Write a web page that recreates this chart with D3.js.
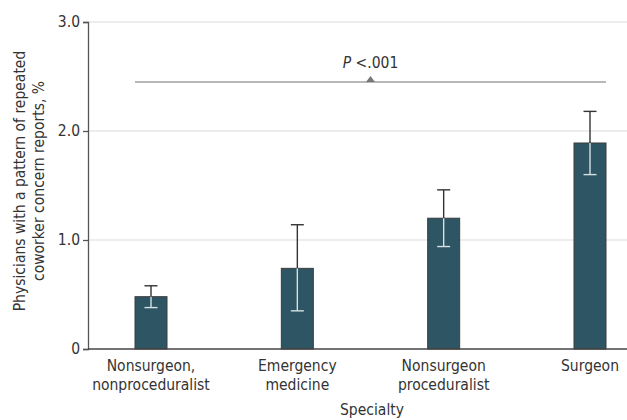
<!DOCTYPE html>
<html>
<head>
<meta charset="utf-8">
<script src="https://cdn.jsdelivr.net/npm/d3@7"></script>
<style>
body { margin: 0; background: #fff; }
svg text { font-family: "Liberation Sans Narrow", "DejaVu Sans Condensed", "Roboto Condensed", "Liberation Sans", sans-serif; fill: #333; }
</style>
</head>
<body>
<svg id="chart"></svg>
<script>
var categories = [["Nonsurgeon,", "nonproceduralist"], ["Emergency", "medicine"], ["Nonsurgeon", "proceduralist"], ["Surgeon"]];
var values = [0.48, 0.74, 1.20, 1.89];
var lower = [0.38, 0.35, 0.94, 1.60];
var upper = [0.58, 1.14, 1.46, 2.18];
var yTicks = [0, 1, 2, 3];
var yTickLabels = ["0", "1.0", "2.0", "3.0"];
var pLineLevel = 2.45;
var pText = "<.001";

var width = 627, height = 420;
var svg = d3.select('#chart')
	.attr('width', width)
	.attr('height', height);

var x = d3.scalePoint()
	.domain(d3.range(categories.length))
	.range([151, 590]);

var y = d3.scaleLinear()
	.domain([0, 3])
	.range([349, 22]);

var barW = 32;

// gridlines
svg.selectAll('.grid')
	.data(yTicks.filter(function(d){ return d > 0; }))
	.enter().append('line')
	.attr('x1', 88).attr('x2', width)
	.attr('y1', function(d){ return y(d); })
	.attr('y2', function(d){ return y(d); })
	.attr('stroke', '#dcdcdc')
	.attr('stroke-width', 1.2);

// y axis
var yAxis = d3.axisLeft(y)
	.tickValues(yTicks)
	.tickFormat(function(d, i){ return yTickLabels[i]; })
	.tickSize(5)
	.tickPadding(3);

var gy = svg.append('g')
	.attr('transform', 'translate(88,0)')
	.call(yAxis);
gy.select('.domain').attr('stroke', '#555').attr('stroke-width', 1.3);
gy.selectAll('.tick line').attr('stroke', '#555').attr('stroke-width', 1.3);
gy.selectAll('.tick text').attr('font-size', 15.5).attr('fill', '#333');

// bars
svg.selectAll('.bar')
	.data(values)
	.enter().append('rect')
	.attr('x', function(d, i){ return x(i) - barW/2; })
	.attr('y', function(d){ return y(d); })
	.attr('width', barW)
	.attr('height', function(d){ return y(0) - y(d); })
	.attr('fill', '#2e5563')
	.attr('stroke', '#3d3d3d')
	.attr('stroke-width', 1);

// error bars, dark above the bar, light inside it
var capW = 13;
values.forEach(function(v, i){
	var cx = x(i);
	svg.append('line')
		.attr('x1', cx).attr('x2', cx)
		.attr('y1', y(upper[i])).attr('y2', y(v))
		.attr('stroke', '#333').attr('stroke-width', 1.4);
	svg.append('line')
		.attr('x1', cx - capW/2).attr('x2', cx + capW/2)
		.attr('y1', y(upper[i])).attr('y2', y(upper[i]))
		.attr('stroke', '#333').attr('stroke-width', 1.4);
	svg.append('line')
		.attr('x1', cx).attr('x2', cx)
		.attr('y1', y(v)).attr('y2', y(lower[i]))
		.attr('stroke', '#d6e1e4').attr('stroke-width', 1.4);
	svg.append('line')
		.attr('x1', cx - capW/2).attr('x2', cx + capW/2)
		.attr('y1', y(lower[i])).attr('y2', y(lower[i]))
		.attr('stroke', '#d6e1e4').attr('stroke-width', 1.4);
});

// x axis
svg.append('line')
	.attr('x1', 88).attr('x2', width)
	.attr('y1', y(0)).attr('y2', y(0))
	.attr('stroke', '#444').attr('stroke-width', 1.4);

var xl = svg.selectAll('.xlab')
	.data(categories)
	.enter().append('text')
	.attr('text-anchor', 'middle')
	.attr('font-size', 15.5)
	.attr('x', function(d, i){ return x(i); })
	.attr('y', 371);
xl.selectAll('tspan')
	.data(function(d){ return d; })
	.enter().append('tspan')
	.attr('x', function(){ return d3.select(this.parentNode).attr('x'); })
	.attr('dy', function(d, j){ return j === 0 ? 0 : 19; })
	.text(function(d){ return d; });

svg.append('text')
	.attr('x', 372)
	.attr('y', 415)
	.attr('text-anchor', 'middle')
	.attr('font-size', 15.5)
	.text('Specialty');

// y title
var yt = svg.append('text')
	.attr('transform', 'translate(25,181) rotate(-90)')
	.attr('text-anchor', 'middle')
	.attr('font-size', 15.5);
yt.append('tspan').attr('x', 0).attr('dy', 0).text('Physicians with a pattern of repeated');
yt.append('tspan').attr('x', 0).attr('dy', 19).text('coworker concern reports, %');

// P value bracket
var pL = x(0) - barW/2, pR = x(categories.length - 1) + barW/2, pMid = (pL + pR) / 2;
svg.append('line')
	.attr('x1', pL).attr('x2', pR)
	.attr('y1', y(pLineLevel)).attr('y2', y(pLineLevel))
	.attr('stroke', '#a0a0a0').attr('stroke-width', 1.5);
svg.append('path')
	.attr('d', 'M' + (pMid - 4.5) + ',' + y(pLineLevel) + 'L' + pMid + ',' + (y(pLineLevel) - 6) + 'L' + (pMid + 4.5) + ',' + y(pLineLevel) + 'Z')
	.attr('fill', '#777');
var pt = svg.append('text')
	.attr('x', pMid)
	.attr('y', y(pLineLevel) - 14)
	.attr('text-anchor', 'middle')
	.attr('font-size', 15.5);
pt.append('tspan').attr('font-style', 'italic').text('P');
pt.append('tspan').text(' ' + pText);
</script>
</body>
</html>
